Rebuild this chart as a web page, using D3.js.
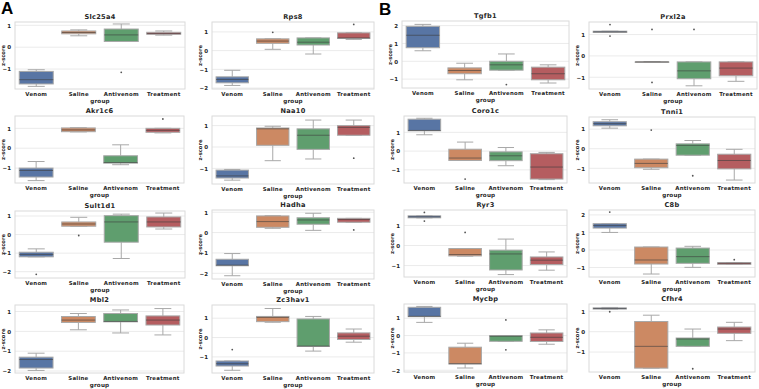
<!DOCTYPE html>
<html>
<head>
<meta charset="utf-8">
<script src="https://cdn.jsdelivr.net/npm/d3@7"></script>
<style>
  body { margin: 0; background: #fff; }
  svg { display: block; font-family: "DejaVu Sans", sans-serif; }
</style>
</head>
<body>
<svg id="chart" width="759" height="389"></svg>
<script>
// groups on the x axis
var groups = ["Venom", "Saline", "Antivenom", "Treatment"];
var colors = ["#5875a4", "#cc8963", "#5f9e6e", "#b55d60"];

// gene per panel (A: first two columns, B: last two)
var genes = ["Slc25a4", "Rps8", "Tgfb1", "Prxl2a",
             "Akr1c6", "Naa10", "Coro1c", "Tnni1",
             "Sult1d1", "Hadha", "Ryr3", "C8b",
             "Mbl2", "Zc3hav1", "Mycbp", "Cfhr4"];

// y range of each panel
var yDomains = [[-1.91, 1.15], [-2.05, 1.53], [-1.5, 2.26], [-1.55, 1.59],
                [-1.75, 1.62], [-1.73, 1.45], [-1.70, 1.87], [-1.75, 1.62],
                [-2.34, 1.27], [-2.28, 1.11], [-1.57, 1.77], [-1.54, 2.28],
                [-2.1, 1.33], [-1.83, 1.68], [-2.1, 1.82], [-1.98, 1.36]];

// box stats per group: [whisker low, q1, median, q3, whisker high]
var boxes = [
  [[-1.79, -1.68, -1.485, -1.106, -1.03], [0.52, 0.61, 0.67, 0.74, 0.79], [0.26, 0.26, 0.56, 0.83, 1.06], [0.55, 0.59, 0.62, 0.68, 0.74]],
  [[-1.86, -1.72, -1.54, -1.40, -1.05], [0.07, 0.39, 0.51, 0.63, 0.63], [-0.18, 0.30, 0.45, 0.68, 0.68], [0.60, 0.65, 0.68, 0.95, 0.95]],
  [[0.59, 0.76, 1.46, 1.96, 2.07], [-1.04, -0.70, -0.52, -0.37, -0.11], [-0.5, -0.5, -0.2, 0, 0.41], [-1.22, -1.04, -0.70, -0.33, -0.2]],
  [[1.10, 1.10, 1.13, 1.16, 1.16], [-0.28, -0.28, -0.28, -0.28, -0.28], [-1.40, -1.07, -0.70, -0.28, -0.28], [-1.19, -0.93, -0.57, -0.28, -0.28]],
  [[-1.63, -1.45, -1.12, -1.0, -0.67], [0.82, 0.83, 0.92, 1.02, 1.03], [-0.83, -0.75, -0.72, -0.38, 0.17], [0.77, 0.8, 0.9, 1.0, 1.0]],
  [[-1.55, -1.45, -1.35, -1.08, -1.05], [-0.64, 0.08, 0.85, 0.89, 0.97], [-0.56, -0.11, 0.55, 0.85, 1.26], [0.55, 0.55, 0.92, 1.0, 1.26]],
  [[0.87, 1.08, 1.1, 1.70, 1.75], [-0.5, -0.5, -0.37, 0.1, 0.48], [-0.78, -0.51, -0.25, -0.04, 0.19], [-1.52, -1.49, -0.85, -0.14, -0.07]],
  [[1.05, 1.17, 1.28, 1.38, 1.48], [-1.05, -0.97, -0.75, -0.53, -0.53], [-0.33, -0.33, 0.17, 0.25, 0.42], [-1.6, -1.03, -0.6, -0.28, -0.03]],
  [[-1.2, -1.2, -1.07, -0.95, -0.77], [0.45, 0.45, 0.57, 0.68, 0.93], [-1.29, -0.41, 0.68, 1.02, 1.1], [0.30, 0.41, 0.68, 0.95, 1.16]],
  [[-2.12, -1.63, -1.60, -1.31, -1.03], [0.21, 0.26, 0.54, 0.82, 0.83], [0.11, 0.41, 0.62, 0.73, 0.95], [0.51, 0.51, 0.64, 0.70, 0.70]],
  [[1.38, 1.38, 1.43, 1.48, 1.48], [-0.53, -0.52, -0.45, -0.15, -0.15], [-1.45, -1.22, -0.42, -0.23, 0.32], [-1.23, -0.95, -0.73, -0.57, -0.32]],
  [[1.0, 1.25, 1.40, 1.50, 1.50], [-1.37, -0.80, -0.57, 0.17, 0.17], [-0.99, -0.76, -0.38, 0.11, 0.21], [-0.82, -0.82, -0.76, -0.72, -0.72]],
  [[-1.97, -1.85, -1.42, -1.30, -1.10], [0.08, 0.45, 0.57, 0.75, 0.90], [-0.08, 0.48, 0.5, 0.9, 1.08], [-0.18, 0.32, 0.57, 0.78, 1.15]],
  [[-1.69, -1.47, -1.35, -1.21, -1.21], [0.79, 0.82, 1.04, 1.09, 1.50], [-0.70, -0.46, -0.44, 0.96, 1.09], [-0.24, -0.10, 0.07, 0.24, 0.44]],
  [[0.76, 1.09, 1.11, 1.63, 1.68], [-1.87, -1.64, -1.62, -0.67, -0.44], [-0.33, -0.33, -0.04, 0, 0], [-0.5, -0.34, -0.1, 0.15, 0.33]],
  [[1.11, 1.11, 1.14, 1.17, 1.19], [-1.79, -1.79, -0.72, 0.5, 0.81], [-0.72, -0.72, -0.36, -0.31, 0.13], [-0.44, -0.08, 0.13, 0.23, 0.46]]
];

// outlier points: [panel, group, value]
var fliers = [
  [0, 2, -1.15],
  [1, 1, 0.98], [1, 3, 1.40],
  [2, 2, -1.31],
  [3, 0, 1.47], [3, 0, 0.93], [3, 1, 1.24], [3, 1, -1.24], [3, 2, 1.24],
  [4, 3, 1.47],
  [5, 3, -0.52],
  [6, 1, -1.49],
  [7, 1, 0.95], [7, 2, -1.38],
  [8, 0, -2.14], [8, 1, -0.05],
  [9, 3, 0.13],
  [10, 0, 1.65], [10, 0, 1.22], [10, 1, 0.65],
  [11, 0, 2.16], [11, 3, -0.55],
  [13, 0, -0.62],
  [14, 2, 0.90], [14, 2, -0.82],
  [15, 0, 0.98], [15, 2, -1.82]
];

// panel frames [left, top, right, bottom]
var frames = [
  [15, 22, 185, 89], [212, 22, 374, 89], [402, 21, 569, 88], [589, 22, 757, 89],
  [15, 116, 184, 183], [212, 116, 374, 184], [404, 116, 567, 183], [589, 117, 755, 183],
  [15, 211, 185, 278], [212, 210, 374, 279], [404, 210, 567, 277], [589, 210, 755, 277],
  [15, 305, 184, 373], [212, 305, 374, 373], [404, 304, 567, 372], [589, 304, 755, 372]
];

var svg = d3.select("#chart");

svg.append("text").attr("x", 1).attr("y", 14)
  .style("font-family", "Liberation Sans, Arial, sans-serif")
  .style("font-size", "17px").style("font-weight", "bold").text("A");
svg.append("text").attr("x", 379).attr("y", 15)
  .style("font-family", "Liberation Sans, Arial, sans-serif")
  .style("font-size", "17px").style("font-weight", "bold").text("B");

genes.forEach(function(gene, i) {
  var f = frames[i];
  var g = svg.append("g");

  var x = d3.scaleBand().domain(groups).range([f[0], f[2]])
    .paddingInner(0.2).paddingOuter(0.1);
  var y = d3.scaleLinear().domain(yDomains[i]).range([f[3], f[1]]);
  var ticks = d3.range(Math.ceil(yDomains[i][0]), Math.floor(yDomains[i][1]) + 1);

  // grid
  g.selectAll(".grid").data(ticks).enter().append("line")
    .attr("x1", f[0]).attr("x2", f[2])
    .attr("y1", function(d) { return y(d); }).attr("y2", function(d) { return y(d); })
    .attr("stroke", "#ebebeb").attr("stroke-width", 1);

  // y axis labels
  var yAxis = d3.axisLeft(y).tickValues(ticks).tickSize(0).tickPadding(4)
    .tickFormat(function(d) { return d < 0 ? "\u2212" + Math.abs(d) : d; });
  var ya = g.append("g").attr("transform", "translate(" + f[0] + ",0)").call(yAxis);
  ya.select(".domain").remove();
  ya.selectAll("text").style("font-size", "5.5px").style("font-family", "DejaVu Sans")
    .style("font-weight", "600").attr("fill", "#262626");

  var xAxis = d3.axisBottom(x).tickSize(0).tickPadding(3);
  var xa = g.append("g").attr("transform", "translate(0," + f[3] + ")").call(xAxis);
  xa.select(".domain").remove();
  xa.selectAll("text").style("font-size", "5.4px").style("font-family", "DejaVu Sans")
    .style("font-weight", "600").style("letter-spacing", "0.25px").attr("fill", "#262626");

  // boxes
  var bw = x.bandwidth();
  boxes[i].forEach(function(s, k) {
    var cx = x(groups[k]) + bw / 2;
    var lc = "#a8a8a8";
    g.append("line").attr("x1", cx).attr("x2", cx).attr("y1", y(s[0])).attr("y2", y(s[1]))
      .attr("stroke", lc);
    g.append("line").attr("x1", cx).attr("x2", cx).attr("y1", y(s[3])).attr("y2", y(s[4]))
      .attr("stroke", lc);
    [s[0], s[4]].forEach(function(v) {
      g.append("line").attr("x1", cx - bw / 4).attr("x2", cx + bw / 4)
        .attr("y1", y(v)).attr("y2", y(v)).attr("stroke", lc);
    });
    g.append("rect").attr("x", x(groups[k])).attr("width", bw)
      .attr("y", y(s[3])).attr("height", Math.max(y(s[1]) - y(s[3]), 0.5))
      .attr("fill", colors[k]).attr("stroke", lc).attr("stroke-width", 1);
    g.append("line").attr("x1", x(groups[k])).attr("x2", x(groups[k]) + bw)
      .attr("y1", y(s[2])).attr("y2", y(s[2]))
      .attr("stroke", "#3d3d3d").attr("stroke-opacity", 0.6).attr("stroke-width", 1);
  });

  g.selectAll(".flier").data(fliers.filter(function(d) { return d[0] === i; }))
    .enter().append("circle")
    .attr("cx", function(d) { return x(groups[d[1]]) + bw / 2; })
    .attr("cy", function(d) { return y(d[2]); })
    .attr("r", 0.9).attr("fill", "#555");

  // frame
  g.append("rect").attr("x", f[0]).attr("y", f[1])
    .attr("width", f[2] - f[0]).attr("height", f[3] - f[1])
    .attr("fill", "none").attr("stroke", "#dadada").attr("stroke-width", 1);

  // title and labels
  g.append("text").attr("x", (f[0] + f[2]) / 2).attr("y", f[1] - 3)
    .attr("text-anchor", "middle").style("font-size", "6.6px").style("font-weight", "bold")
    .style("letter-spacing", "0.3px").attr("fill", "#262626").text(gene);
  g.append("text").attr("x", (f[0] + f[2]) / 2).attr("y", f[3] + 14)
    .attr("text-anchor", "middle").style("font-size", "5.6px").style("font-weight", "600")
    .style("letter-spacing", "0.2px").attr("fill", "#262626").text("group");
  g.append("text")
    .attr("transform", "translate(" + (f[0] - 10.5) + "," + ((f[1] + f[3]) / 2) + ") rotate(-90)")
    .attr("text-anchor", "middle").style("font-size", "5.2px").style("font-weight", "600")
    .attr("fill", "#262626").text("z-score");
});
</script>
</body>
</html>
